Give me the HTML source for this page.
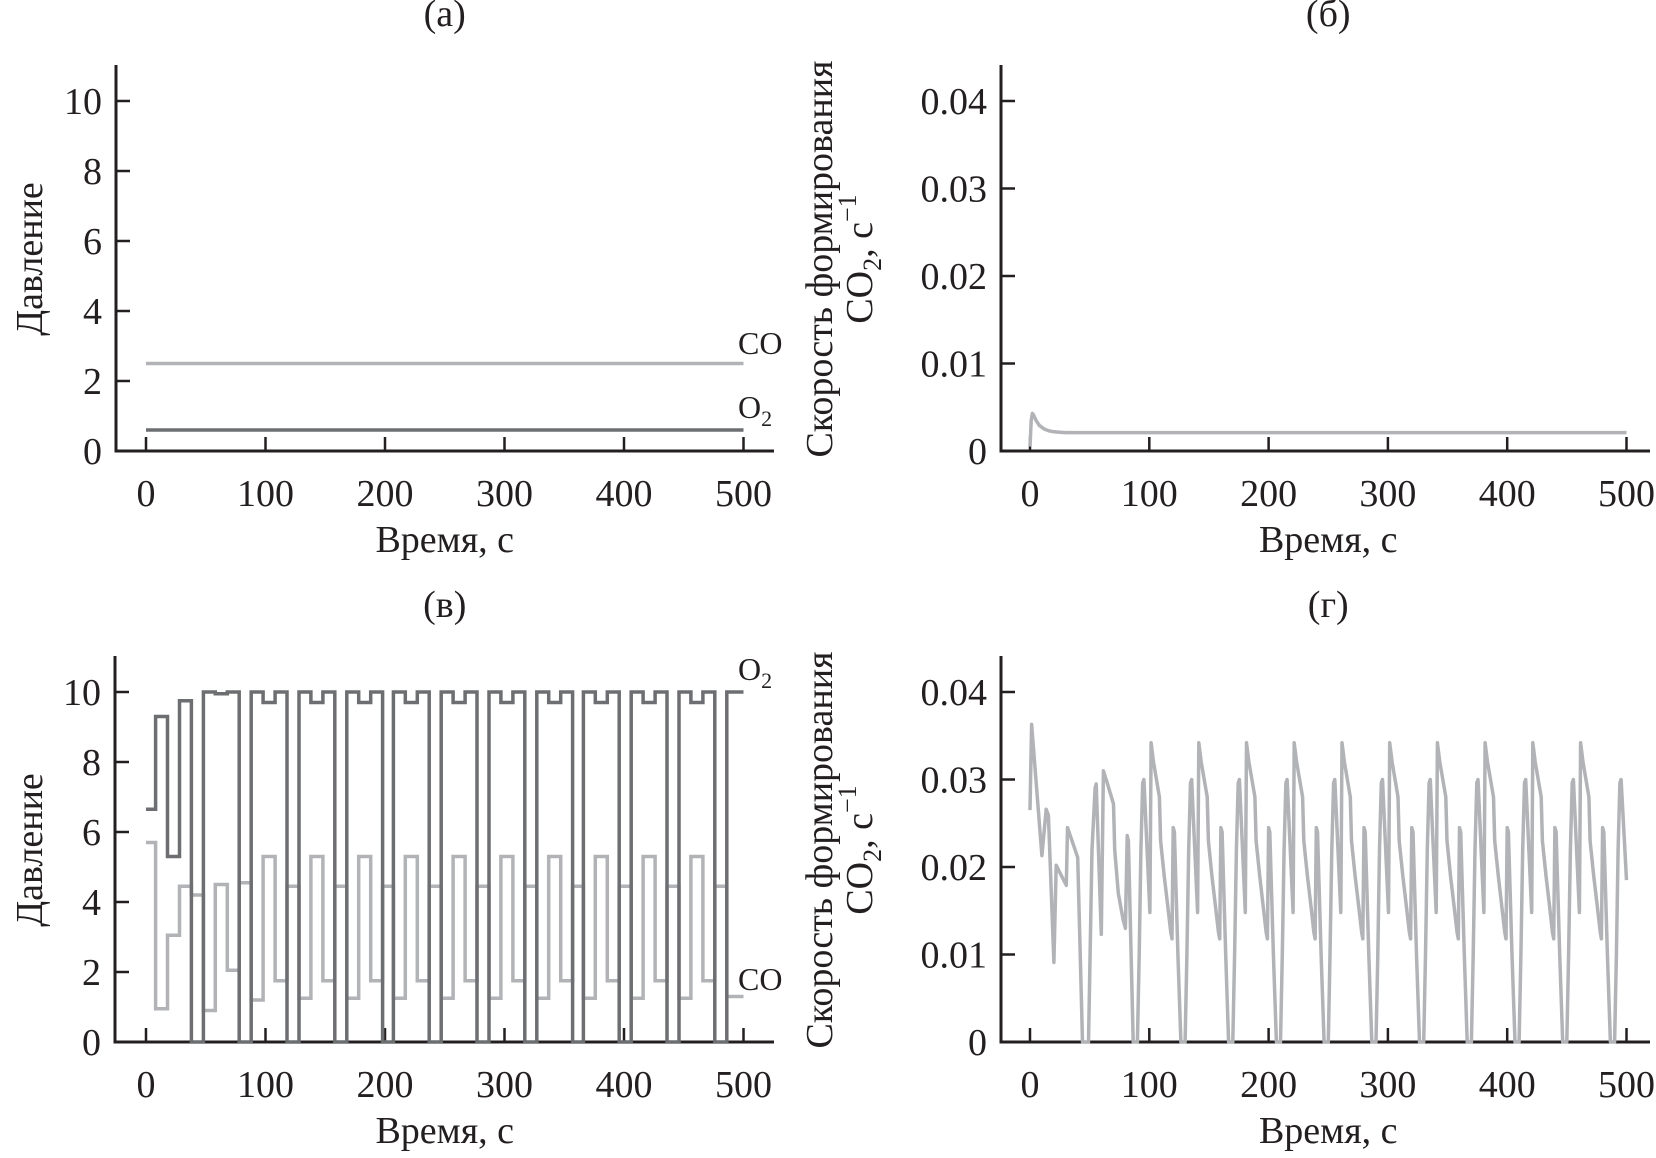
<!DOCTYPE html>
<html><head><meta charset="utf-8">
<style>
html,body{margin:0;padding:0;background:#fff;}
svg{display:block;font-family:"Liberation Serif",serif;}
text{fill:#231f20;}
</style></head>
<body>
<svg id="fig" width="1656" height="1158" viewBox="0 0 1656 1158" xmlns="http://www.w3.org/2000/svg"></svg>
<script>
// ---------- data ----------
const xTicks = [0,100,200,300,400,500];
const pTicks = [0,2,4,6,8,10];
const rTicks = [0,0.01,0.02,0.03,0.04];
const rTickLabels = ["0","0.01","0.02","0.03","0.04"];

// panel (a)
const aCO = 2.5;
const aO2 = 0.6;

// panel (б)
const bT = [0,1,2,3,5,8,12,16,20,25,30,40,60,100,200,300,400,500];
const bV = [0.0005,0.0035,0.0043,0.0041,0.0035,0.0029,0.0025,0.0023,0.0022,0.00215,0.0021,0.0021,0.0021,0.0021,0.0021,0.0021,0.0021,0.0021];

// panel (в) step series: value holds from t[i] until t[i+1]
const cO2T = [0,8,18,28,38,48,58,68,78,
  88,98,108,118, 128,138,148,158, 168,178,188,198, 207,217,227,237, 247,257,267,277,
  287,297,307,317, 327,337,347,357, 366,376,386,396, 406,416,426,436, 446,456,466,476, 486,500];
const cO2V = [6.65,9.3,5.3,9.75,0,10,9.95,10,0,
  10,9.7,10,0, 10,9.7,10,0, 10,9.7,10,0, 10,9.7,10,0, 10,9.7,10,0,
  10,9.7,10,0, 10,9.7,10,0, 10,9.7,10,0, 10,9.7,10,0, 10,9.7,10,0, 10,10];
const cCOT = [0,8,18,28,38,48,58,68,78,
  88,98,108,118, 128,138,148,158, 168,178,188,198, 207,217,227,237, 247,257,267,277,
  287,297,307,317, 327,337,347,357, 366,376,386,396, 406,416,426,436, 446,456,466,476, 486,500];
const cCOV = [5.7,0.95,3.05,4.45,4.2,0.9,4.5,2.05,4.55,
  1.2,5.3,1.75,4.45, 1.25,5.3,1.75,4.45, 1.25,5.3,1.75,4.45, 1.25,5.3,1.75,4.45, 1.25,5.3,1.75,4.45,
  1.25,5.3,1.75,4.45, 1.25,5.3,1.75,4.45, 1.25,5.3,1.75,4.45, 1.25,5.3,1.75,4.45, 1.25,5.3,1.75,4.45, 1.3,1.3];

// panel (г)
const dT = [0,1.3,10,13.6,15.4,20,22,30.4,31.4,40,44,49,52,54.6,55.5,59.8,61.5,65,70,71,74,78,80,81.5,82.5,
  86.5,90,91.5,93,94.5,95.5,96.5,100.5,101.5,103.5,108.5,109.5,112.5,115.5,118,119,120,121,124,
  126.5,130,131.5,133,134.5,135.5,136.5,140.5,141.5,143.5,148.5,149.5,152.5,155.5,158,159,160,161,164,
  166.5,170,171.5,173,174.5,175.5,176.5,180.5,181.5,183.5,188.5,189.5,192.5,195.5,198,199,200,201,204,
  206.5,210,211.5,213,214.5,215.5,216.5,220.5,221.5,223.5,228.5,229.5,232.5,235.5,238,239,240,241,244,
  246.5,250,251.5,253,254.5,255.5,256.5,260.5,261.5,263.5,268.5,269.5,272.5,275.5,278,279,280,281,284,
  286.5,290,291.5,293,294.5,295.5,296.5,300.5,301.5,303.5,308.5,309.5,312.5,315.5,318,319,320,321,324,
  326.5,330,331.5,333,334.5,335.5,336.5,340.5,341.5,343.5,348.5,349.5,352.5,355.5,358,359,360,361,364,
  366.5,370,371.5,373,374.5,375.5,376.5,380.5,381.5,383.5,388.5,389.5,392.5,395.5,398,399,400,401,404,
  406.5,410,411.5,413,414.5,415.5,416.5,420.5,421.5,423.5,428.5,429.5,432.5,435.5,438,439,440,441,444,
  446.5,450,451.5,453,454.5,455.5,456.5,460.5,461.5,463.5,468.5,469.5,472.5,475.5,478,479,480,481,484,
  486.5,490,491.5,493,494.5,495.5,500];
const dV = [0.0265,0.0363,0.0213,0.0266,0.0259,0.0091,0.0202,0.0179,0.0245,0.0211,0,0,0.022,0.029,0.0295,0.0123,0.031,0.0295,0.0272,0.022,0.017,0.014,0.013,0.0236,0.023,
  0,0,0.01,0.022,0.0296,0.030,0.027,0.0148,0.0342,0.032,0.028,0.023,0.019,0.0155,0.0125,0.0118,0.0245,0.024,0.01,
  0,0,0.01,0.022,0.0296,0.030,0.027,0.0148,0.0342,0.032,0.028,0.023,0.019,0.0155,0.0125,0.0118,0.0245,0.024,0.01,
  0,0,0.01,0.022,0.0296,0.030,0.027,0.0148,0.0342,0.032,0.028,0.023,0.019,0.0155,0.0125,0.0118,0.0245,0.024,0.01,
  0,0,0.01,0.022,0.0296,0.030,0.027,0.0148,0.0342,0.032,0.028,0.023,0.019,0.0155,0.0125,0.0118,0.0245,0.024,0.01,
  0,0,0.01,0.022,0.0296,0.030,0.027,0.0148,0.0342,0.032,0.028,0.023,0.019,0.0155,0.0125,0.0118,0.0245,0.024,0.01,
  0,0,0.01,0.022,0.0296,0.030,0.027,0.0148,0.0342,0.032,0.028,0.023,0.019,0.0155,0.0125,0.0118,0.0245,0.024,0.01,
  0,0,0.01,0.022,0.0296,0.030,0.027,0.0148,0.0342,0.032,0.028,0.023,0.019,0.0155,0.0125,0.0118,0.0245,0.024,0.01,
  0,0,0.01,0.022,0.0296,0.030,0.027,0.0148,0.0342,0.032,0.028,0.023,0.019,0.0155,0.0125,0.0118,0.0245,0.024,0.01,
  0,0,0.01,0.022,0.0296,0.030,0.027,0.0148,0.0342,0.032,0.028,0.023,0.019,0.0155,0.0125,0.0118,0.0245,0.024,0.01,
  0,0,0.01,0.022,0.0296,0.030,0.027,0.0148,0.0342,0.032,0.028,0.023,0.019,0.0155,0.0125,0.0118,0.0245,0.024,0.01,
  0,0,0.01,0.022,0.0296,0.030,0.0185];

// ---------- drawing ----------
const NS = "http://www.w3.org/2000/svg";
const svg = document.getElementById("fig");
function el(tag, attrs, parent){
  const e = document.createElementNS(NS, tag);
  for (const k in attrs) e.setAttribute(k, attrs[k]);
  (parent||svg).appendChild(e);
  return e;
}
const LIGHT = "#b1b3b6", DARK = "#6d6e71";

function panel(o){
  // o: left axis x, x0 (t=0), pxPerT, yBase, yTop (value), ymax, axisRight, top
  const g = el("g", {});
  
  
  const X = t => o.x0 + t*o.kx;
  const Y = v => o.yBase - (v/o.ymaxTick)*350;
  // axes
  const ax = el("path", {d:`M${o.axisX} ${o.top} V${o.yBase} H${o.axisR}`, fill:"none", stroke:"#231f20", "stroke-width":3}, g);
  
  
  xTicks.forEach(t=>{
    const tk = el("line", {x1:X(t), x2:X(t), y1:o.yBase, y2:o.yBase-14, stroke:"#231f20","stroke-width":2.5}, g);
    
    
    const lb = el("text", {x:X(t), y:o.yBase+55, "font-size":38, "text-anchor":"middle"}, g);
    lb.textContent = t;
    
    
  });
  o.yTicks.forEach((v,i)=>{
    const tk = el("line", {x1:o.axisX, x2:o.axisX+14, y1:Y(v), y2:Y(v), stroke:"#231f20","stroke-width":2.5}, g);
    
    
    const lb = el("text", {x:o.axisX-14, y:Y(v)+13, "font-size":38, "text-anchor":"end"}, g);
    lb.textContent = o.yLabels[i];
    
    
  });
  const xt = el("text", {x:(X(0)+X(500))/2, y:o.yBase+101, "font-size":38, "text-anchor":"middle"}, g);
  xt.textContent = "Время, с";
  
  
  const tt = el("text", {x:(X(0)+X(500))/2, y:o.yBase-425, "font-size":38, "text-anchor":"middle"}, g);
  tt.textContent = o.title;
  
  
  return {g, X, Y};
}
function linePath(ts, vs, X, Y){
  return ts.map((t,i)=>(i?"L":"M")+X(t).toFixed(1)+" "+Y(vs[i]).toFixed(1)).join(" ");
}
function stepPath(ts, vs, X, Y){
  let d = "M"+X(ts[0]).toFixed(1)+" "+Y(vs[0]).toFixed(1);
  for (let i=1;i<ts.length;i++){
    d += " H"+X(ts[i]).toFixed(1)+" V"+Y(vs[i]).toFixed(1);
  }
  return d;
}
function yTitle2(x1, x2, cy, g){
  const t1 = el("text", {transform:`translate(${x1},${cy}) rotate(-90)`, "font-size":38, "text-anchor":"middle"}, g);
  t1.textContent = "Скорость формирования";
  
  
  const t2 = el("text", {transform:`translate(${x2},${cy}) rotate(-90)`, "font-size":38, "text-anchor":"middle"}, g);
  t2.innerHTML = 'CO<tspan font-size="26" dy="9">2</tspan><tspan dy="-9">, с</tspan><tspan font-size="26" dy="-16">−1</tspan>';
  
  
}
function yTitle1(x, cy, g){
  const t = el("text", {transform:`translate(${x},${cy}) rotate(-90)`, "font-size":38, "text-anchor":"middle"}, g);
  t.textContent = "Давление";
  
  
}
function seriesLabel(x, y, main, sub, g, name){
  const t = el("text", {x:x, y:y, "font-size":32}, g);
  t.innerHTML = sub ? main+'<tspan font-size="22" dy="8">'+sub+'</tspan>' : main;
  
  
}

// Panel (а)
const pA = panel({name:"panel-a", axisX:116, top:65, yBase:451, axisR:774, x0:146, kx:1.195, ymaxTick:10, yTicks:pTicks, yLabels:pTicks.map(String), title:"(а)"});
yTitle1(42, 259, pA.g);
let p = el("path", {d:linePath([0,500],[aCO,aCO],pA.X,pA.Y), fill:"none", stroke:LIGHT, "stroke-width":3.5}, pA.g);


p = el("path", {d:linePath([0,500],[aO2,aO2],pA.X,pA.Y), fill:"none", stroke:DARK, "stroke-width":3.5}, pA.g);


seriesLabel(738, 354, "CO", "", pA.g, "co-label");
seriesLabel(738, 418, "O", "2", pA.g, "o2-label");

// Panel (б)
const pB = panel({name:"panel-b", axisX:1001, top:65, yBase:451, axisR:1650, x0:1030, kx:1.193, ymaxTick:0.04, yTicks:rTicks, yLabels:rTickLabels, title:"(б)"});
yTitle2(832, 872, 259, pB.g);
p = el("path", {d:linePath(bT,bV,pB.X,pB.Y), fill:"none", stroke:LIGHT, "stroke-width":3.5, "stroke-linejoin":"round"}, pB.g);



// Panel (в)
const pC = panel({name:"panel-c", axisX:115, top:656, yBase:1042, axisR:774, x0:146, kx:1.195, ymaxTick:10, yTicks:pTicks, yLabels:pTicks.map(String), title:"(в)"});
yTitle1(42, 850, pC.g);
p = el("path", {d:stepPath(cCOT,cCOV,pC.X,pC.Y), fill:"none", stroke:LIGHT, "stroke-width":3.5}, pC.g);


p = el("path", {d:stepPath(cO2T,cO2V,pC.X,pC.Y), fill:"none", stroke:DARK, "stroke-width":3.5}, pC.g);


seriesLabel(738, 680, "O", "2", pC.g, "o2-label");
seriesLabel(738, 990, "CO", "", pC.g, "co-label");

// Panel (г)
const pD = panel({name:"panel-d", axisX:1001, top:656, yBase:1042, axisR:1650, x0:1030, kx:1.193, ymaxTick:0.04, yTicks:rTicks, yLabels:rTickLabels, title:"(г)"});
yTitle2(832, 872, 850, pD.g);
p = el("path", {d:linePath(dT,dV,pD.X,pD.Y), fill:"none", stroke:LIGHT, "stroke-width":3.5, "stroke-linejoin":"round"}, pD.g);


</script>
</body></html>
